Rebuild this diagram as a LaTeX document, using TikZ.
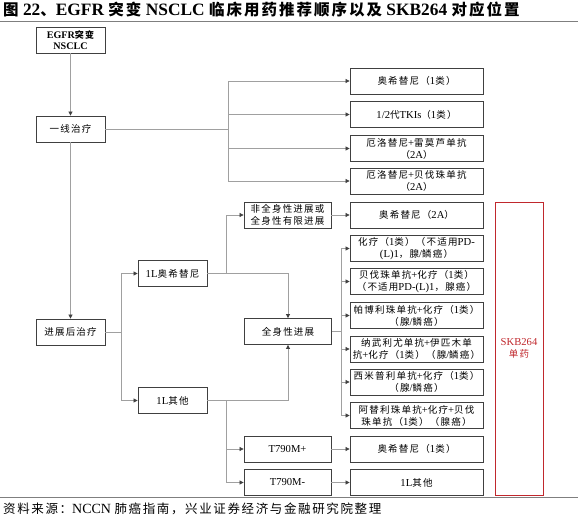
\documentclass[tikz,border=0pt]{standalone}
\usepackage{fontspec}
\setmainfont{Liberation Serif}[Scale=1.12]
\newfontfamily\cjkfont{Noto Sans CJK SC}
\usetikzlibrary{arrows.meta}

% CJK characters switch to the CJK font on their own
\XeTeXinterchartokenstate=1
\newXeTeXintercharclass\cjkclass
\newcount\cjkcode
\newcommand\cjkrange[2]{%
  \cjkcode=#1\relax
  \loop
    \XeTeXcharclass\cjkcode=\cjkclass
    \advance\cjkcode by 1
  \ifnum\cjkcode<#2\relax\repeat}
\cjkrange{"3000}{"3040}
\cjkrange{"4E00}{"A000}
\cjkrange{"FF00}{"FFF0}
\XeTeXinterchartoks 0 \cjkclass = {\cjkfont}
\XeTeXinterchartoks 4095 \cjkclass = {\cjkfont}
\XeTeXinterchartoks \cjkclass 0 = {\rmfamily}
\XeTeXinterchartoks \cjkclass 4095 = {\rmfamily}
\XeTeXinterchartoks \cjkclass \cjkclass = {\hskip0.13em\relax}

\definecolor{chartline}{HTML}{404040}
\definecolor{chartgray}{HTML}{A0A0A0}
\definecolor{chartrule}{HTML}{7F7F7F}
\definecolor{chartred}{HTML}{C0282D}
\newcommand\chartfont{\fontsize{9.5}{12}\selectfont}

\begin{document}
\begin{tikzpicture}[x=1pt, y=-1pt,
    stage/.style={draw=chartline, line width=0.8pt, fill=white, align=center,
                  minimum width=69pt, minimum height=26pt, inner sep=1pt, font=\chartfont},
    branch/.style={stage, minimum width=87pt},
    regimen/.style={stage, minimum width=133pt},
    skbbox/.style={draw=chartred, line width=0.8pt, minimum width=48pt, minimum height=293pt,
                   text=chartred, align=center, font=\chartfont},
    arrow/.style={-{Triangle[length=4pt, width=4pt, color=chartline]}, draw=chartgray, line width=0.7pt},
    link/.style={draw=chartgray, line width=0.7pt},
    caption/.style={anchor=west, inner sep=0pt}
  ]
    \useasboundingbox (0,0) rectangle (578,530);

    % title and source rules
    \node[caption, font=\fontsize{15.5}{18}\selectfont\bfseries] (title) at (3,10)
      {图 22、EGFR 突变 NSCLC 临床用药推荐顺序以及 SKB264 对应位置};
    \draw[chartrule, line width=0.8pt] (0,21) -- (578,21);
    \draw[chartrule, line width=0.8pt] (0,497) -- (578,497);
    \node[caption, font=\fontsize{12.5}{14}\selectfont] (source) at (3,509)
      {资料来源：NCCN 肺癌指南，兴业证券经济与金融研究院整理};

    % left column
    \node[stage, font=\fontsize{9}{11.5}\selectfont\bfseries] (egfr) at (70.5,40) {EGFR突变\\NSCLC};
    \node[stage] (first) at (70.5,129)   {一线治疗};
    \node[stage] (later) at (70.5,332)   {进展后治疗};

    \node[stage] (osi1L)   at (172.5,273.5) {1L奥希替尼};
    \node[stage] (other1L) at (172.5,400.5) {1L其他};

    \node[branch] (nonsys) at (287.5,215)   {非全身性进展或\\全身性有限进展};
    \node[branch] (sys)    at (288,331.5)   {全身性进展};
    \node[branch] (tplus)  at (287.5,449)   {T790M+};
    \node[branch] (tminus) at (287.5,482.5) {T790M-};

    % regimens (right column)
    \node[regimen] (r1)  at (416.5,81)    {奥希替尼（1类）};
    \node[regimen] (r2)  at (416.5,114.5) {1/2代TKIs（1类）};
    \node[regimen] (r3)  at (416.5,148.5) {厄洛替尼+雷莫芦单抗\\（2A）};
    \node[regimen] (r4)  at (416.5,181)   {厄洛替尼+贝伐珠单抗\\（2A）};
    \node[regimen] (r5)  at (416.5,215)   {奥希替尼（2A）};
    \node[regimen] (r6)  at (416.5,248.5) {化疗（1类）（不适用PD-\\(L)1，腺/鳞癌）};
    \node[regimen] (r7)  at (416.5,281.5) {贝伐珠单抗+化疗（1类）\\（不适用PD-(L)1，腺癌）};
    \node[regimen] (r8)  at (416.5,315.5) {帕博利珠单抗+化疗（1类）\\（腺/鳞癌）};
    \node[regimen] (r9)  at (416.5,349)   {纳武利尤单抗+伊匹木单\\抗+化疗（1类）（腺/鳞癌）};
    \node[regimen] (r10) at (416.5,382)   {西米普利单抗+化疗（1类）\\（腺/鳞癌）};
    \node[regimen] (r11) at (416.5,415.5) {阿替利珠单抗+化疗+贝伐\\珠单抗（1类）（腺癌）};
    \node[regimen] (r12) at (416.5,449)   {奥希替尼（1类）};
    \node[regimen] (r13) at (416.5,482.5) {1L其他};

    \node[skbbox] (skb) at (519,348.5) {SKB264\\单药};

    % forks of the connectors
    \coordinate (fork1) at (228,129);
    \coordinate (fork2) at (121,332);
    \coordinate (fork3) at (226,273.5);
    \coordinate (fork4) at (226,400.5);
    \coordinate (fork5) at (341,331.5);

    \draw[arrow] (egfr) -- (first);
    \draw[arrow] (first) -- (later);

    \draw[link]  (first.east) -- (fork1);
    \draw[arrow] (fork1) |- (r1.west);
    \draw[arrow] (fork1) |- (r2.west);
    \draw[arrow] (fork1) |- (r3.west);
    \draw[arrow] (fork1) |- (r4.west);

    \draw[link]  (later.east) -- (fork2);
    \draw[arrow] (fork2) |- (osi1L.west);
    \draw[arrow] (fork2) |- (other1L.west);

    \draw[arrow] (osi1L.east) -| (sys.north);
    \draw[arrow] (fork3) |- (nonsys.west);
    \draw[arrow] (other1L.east) -| (sys.south);
    \draw[arrow] (fork4) |- (tplus.west);
    \draw[arrow] (fork4) |- (tminus.west);

    \draw[arrow] (nonsys) -- (r5);
    \draw[arrow] (tplus)  -- (r12);
    \draw[arrow] (tminus) -- (r13);

    \draw[link]  (sys.east) -- (fork5);
    \draw[arrow] (fork5) |- (r6.west);
    \draw[arrow] (fork5) |- (r7.west);
    \draw[arrow] (fork5) |- (r8.west);
    \draw[arrow] (fork5) |- (r9.west);
    \draw[arrow] (fork5) |- (r10.west);
    \draw[arrow] (fork5) |- (r11.west);
  \end{tikzpicture}
\end{document}
